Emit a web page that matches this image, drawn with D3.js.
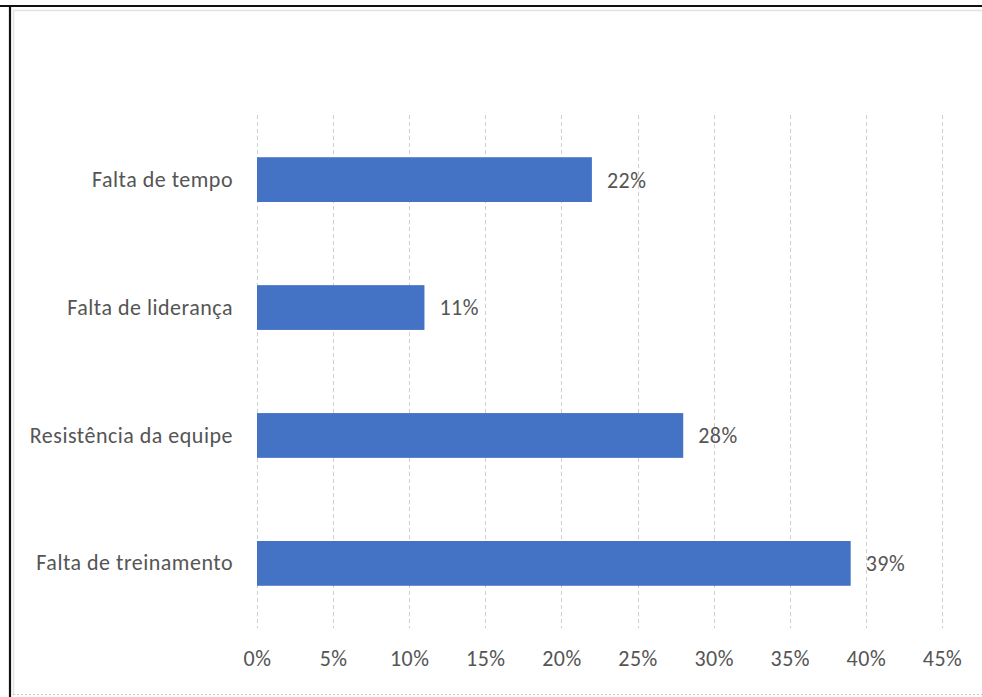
<!DOCTYPE html>
<html>
<head>
<meta charset="utf-8">
<script src="https://cdn.jsdelivr.net/npm/d3@7"></script>
<style>
  html, body { margin: 0; padding: 0; background: #fff; }
  svg { display: block; }
  text { font-family: "Carlito", "Lato", "Liberation Sans Narrow", sans-serif; fill: #555; letter-spacing: 0.5px; }
</style>
</head>
<body>
<script>
// Reasons reported for difficulties, share of respondents
const categories = ["Falta de tempo", "Falta de liderança", "Resistência da equipe", "Falta de treinamento"];
const values = [0.22, 0.11, 0.28, 0.39];
const tickValues = [0, 0.05, 0.10, 0.15, 0.20, 0.25, 0.30, 0.35, 0.40, 0.45];

const W = 982, H = 697;
const FONT = '"Carlito", "Lato", "Liberation Sans Narrow", sans-serif';
const svg = d3.select("body").append("svg").attr("width", W).attr("height", H);

// frame
svg.append("line").attr("x1", 0).attr("x2", W).attr("y1", 6).attr("y2", 6)
  .attr("stroke", "#111").attr("stroke-width", 2.2);
svg.append("line").attr("x1", 10).attr("x2", 10).attr("y1", 5).attr("y2", H)
  .attr("stroke", "#111").attr("stroke-width", 2.2);
svg.append("line").attr("x1", 13).attr("x2", W).attr("y1", 10.5).attr("y2", 10.5)
  .attr("stroke", "#e3e3e3").attr("stroke-width", 1.5);
svg.append("line").attr("x1", 13.5).attr("x2", 13.5).attr("y1", 10).attr("y2", 694)
  .attr("stroke", "#e3e3e3").attr("stroke-width", 1.5);
svg.append("line").attr("x1", 13).attr("x2", W).attr("y1", 694.5).attr("y2", 694.5)
  .attr("stroke", "#c8c8c8").attr("stroke-width", 1).attr("stroke-dasharray", "2,2");

const plot = { left: 257, right: 942, top: 115, bottom: 628 };

const x = d3.scaleLinear().domain([0, 0.45]).range([plot.left, plot.right]);
const y = d3.scaleBand().domain(categories)
  .range([plot.top, plot.bottom]).paddingInner(0.65).paddingOuter(0.33);

// vertical gridlines
svg.append("g").selectAll("line").data(tickValues).join("line")
  .attr("x1", d => Math.round(x(d)) + 0.5).attr("x2", d => Math.round(x(d)) + 0.5)
  .attr("y1", plot.top).attr("y2", plot.bottom)
  .attr("stroke", "#cfcfcf").attr("stroke-width", 1).attr("stroke-dasharray", "4,3");

// bars
svg.append("g").selectAll("rect").data(categories).join("rect")
  .attr("x", x(0))
  .attr("y", d => y(d))
  .attr("width", (d, i) => x(values[i]) - x(0))
  .attr("height", y.bandwidth())
  .attr("fill", "#4472C4");

// value labels
svg.append("g").selectAll("text").data(categories).join("text")
  .attr("x", (d, i) => x(values[i]) + 15)
  .attr("y", d => y(d) + y.bandwidth() / 2)
  .attr("dy", "0.36em")
  .attr("font-size", 22)
  .text((d, i) => Math.round(values[i] * 100) + "%");

// category axis
const yAxis = svg.append("g").attr("transform", `translate(${plot.left},0)`)
  .call(d3.axisLeft(y).tickSize(0).tickPadding(24));
yAxis.select(".domain").remove();
yAxis.selectAll("text").attr("font-size", 22).attr("fill", "#555")
  .style("font-family", FONT);

// value axis
const xAxis = svg.append("g").attr("transform", `translate(0,${plot.bottom})`)
  .call(d3.axisBottom(x).tickValues(tickValues).tickSize(0).tickPadding(22)
    .tickFormat(d3.format(".0%")));
xAxis.select(".domain").remove();
xAxis.selectAll("text").attr("font-size", 22).attr("fill", "#555")
  .style("font-family", FONT);
</script>
</body>
</html>
